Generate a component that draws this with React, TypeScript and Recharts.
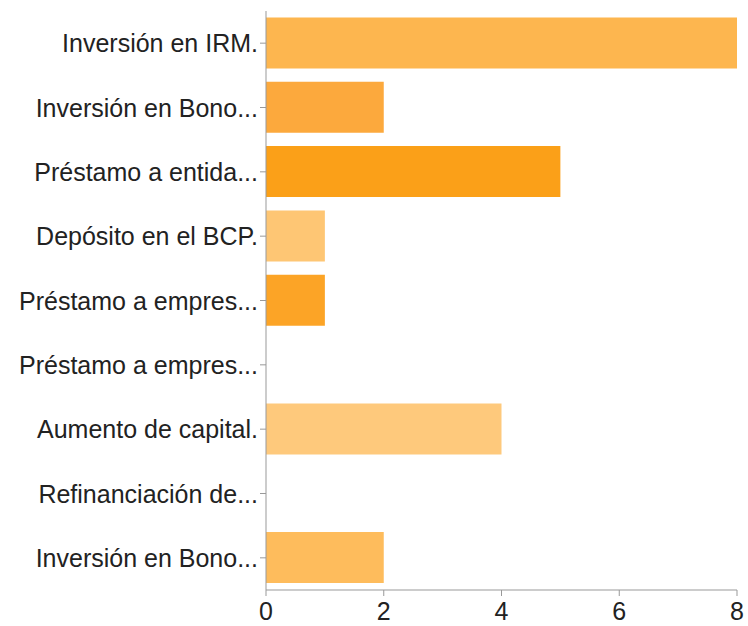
import React from "react";
import { BarChart, Bar, XAxis, YAxis, Cell } from "recharts";

const categories = [
  "Inversión en IRM.",
  "Inversión en Bono...",
  "Préstamo a entida...",
  "Depósito en el BCP.",
  "Préstamo a empres...",
  "Préstamo a empres...",
  "Aumento de capital.",
  "Refinanciación de...",
  "Inversión en Bono...",
];
const values = [8, 2, 5, 1, 1, 0, 4, 0, 2];
const colors = [
  "#FDB64F",
  "#FCA93D",
  "#FBA018",
  "#FEC674",
  "#FCA426",
  "#FDB64F",
  "#FEC97C",
  "#FDB64F",
  "#FEBC5C",
];
const xTicks = [0, 2, 4, 6, 8];

const data = categories.map((c, i) => ({ key: `${i}`, name: c, value: values[i] }));

const FONT = "Liberation Sans, Arial, sans-serif";

const CatTick = (props: any) => {
  const { x, y, payload } = props;
  const label = categories[Number(payload.value)];
  return (
    <text x={x} y={y} dy={9} textAnchor="end" fill="#222" fontSize={25} fontFamily={FONT}>
      {label}
    </text>
  );
};

const NumTick = (props: any) => {
  const { x, y, payload } = props;
  return (
    <text x={x} y={y} dy={22} textAnchor="middle" fill="#222" fontSize={25} fontFamily={FONT}>
      {payload.value}
    </text>
  );
};

export default function App() {
  return (
    <div style={{ position: "absolute", left: 0, top: 0 }}>
      <BarChart
        width={748}
        height={626}
        data={data}
        layout="vertical"
        margin={{ top: 11, right: 11, bottom: 0, left: 0 }}
        barCategoryGap="10%"
      >
        <XAxis
          type="number"
          domain={[0, 8]}
          ticks={xTicks}
          height={36}
          stroke="#999"
          tickLine={{ stroke: "#999" }}
          tickSize={6}
          tick={<NumTick />}
        />
        <YAxis
          type="category"
          dataKey="key"
          width={266}
          stroke="#999"
          tickLine={{ stroke: "#999" }}
          tickSize={6}
          tick={<CatTick />}
          interval={0}
        />
        <Bar dataKey="value" isAnimationActive={false}>
          {data.map((d, i) => (
            <Cell key={d.key} fill={colors[i]} />
          ))}
        </Bar>
      </BarChart>
    </div>
  );
}
